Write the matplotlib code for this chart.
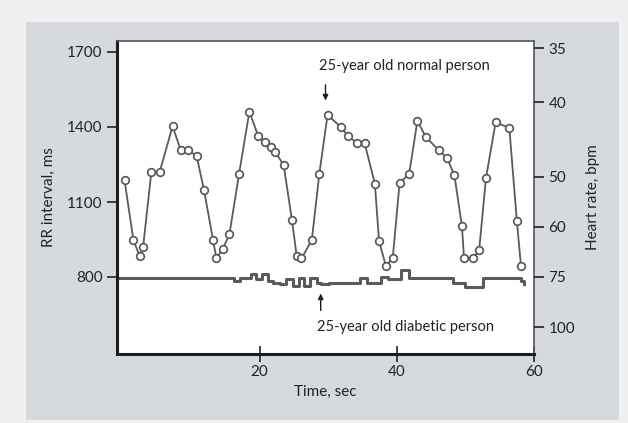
import matplotlib
matplotlib.use("Agg")
import matplotlib.pyplot as plt
from matplotlib.patches import Rectangle

plt.rcParams['font.family'] = ['Lato', 'DejaVu Sans']

# 25-year old normal person: RR interval (ms) per beat
normal_t = [0.3, 1.6, 2.5, 3.0, 4.2, 5.4, 7.3, 8.5, 9.6, 10.8, 11.9, 13.2, 13.7,
            14.6, 15.6, 17.0, 18.5, 19.8, 20.8, 21.6, 22.3, 23.5, 24.7, 25.4,
            26.1, 27.6, 28.7, 29.9, 31.8, 32.9, 34.2, 35.3, 36.8, 37.4, 38.4,
            39.4, 40.4, 41.8, 43.0, 44.2, 46.1, 47.3, 48.4, 49.5, 49.8, 51.1,
            52.0, 53.0, 54.4, 56.4, 57.5, 58.1]
normal_rr = [1186, 947, 884, 918, 1218, 1218, 1403, 1307, 1307, 1285, 1146, 949, 874,
             911, 972, 1213, 1461, 1363, 1340, 1320, 1300, 1247, 1029, 884,
             874, 947, 1213, 1448, 1401, 1363, 1336, 1336, 1173, 945, 844,
             875, 1175, 1213, 1425, 1361, 1307, 1277, 1206, 1002, 874, 874,
             907, 1196, 1418, 1397, 1025, 844]

# 25-year old diabetic person: step changes in RR interval
diab_t = [-0.8, 16.2, 17.2, 18.8, 19.5, 20.4, 21.2, 21.9, 23.0, 23.9, 24.8, 25.7,
          26.5, 27.3, 28.3, 28.9, 30.1, 34.7, 35.6, 37.7, 38.7, 40.6, 41.8,
          48.2, 49.9, 52.6, 58.1, 58.6]
diab_rr = [797, 784, 797, 813, 790, 811, 784, 777, 770, 790, 765, 797,
           765, 797, 777, 770, 777, 797, 777, 800, 790, 827, 797,
           777, 760, 797, 785, 770]

rr_ticks = [800, 1100, 1400, 1700]
hr_ticks = [35, 40, 50, 60, 75, 100]
x_ticks = [20, 40, 60]

txt = "#222222"

fig = plt.figure(figsize=(6.28, 4.23), dpi=100, facecolor="#f0f0f0")
fig.patches.append(Rectangle((26 / 628, 1 - 420 / 423), 593 / 628, 398 / 423,
                             transform=fig.transFigure, facecolor="#d6dadf",
                             edgecolor="none", zorder=-10))

ax = fig.add_axes([117 / 628, 1 - 354 / 423, 417 / 628, 313 / 423])
ax.set_facecolor("white")

ax.plot(normal_t, normal_rr, color="#5a5a5a", lw=1.3, marker="o", ms=5.5,
        mfc="white", mec="#555555", mew=1.2, zorder=3)
ax.plot(diab_t, diab_rr, color="#5a5a5a", lw=2.2, drawstyle="steps-post", zorder=2)

ax.set_xlim(-0.8, 60)
ax.set_ylim(492, 1744)
ax.set_xticks(x_ticks)
ax.set_yticks(rr_ticks)
ax.tick_params(axis="x", direction="inout", length=12, width=1.2, labelsize=11,
               pad=2, colors=txt)
ax.tick_params(axis="y", direction="out", length=7, width=1.2, labelsize=11,
               colors=txt)

for s in ["left", "bottom"]:
    ax.spines[s].set_linewidth(2.2)
    ax.spines[s].set_color("#1e1e1e")
for s in ["top", "right"]:
    ax.spines[s].set_linewidth(1.2)
    ax.spines[s].set_color("#555555")

ax.set_xlabel("Time, sec", fontsize=11, color=txt, labelpad=4)
ax.set_ylabel("RR interval, ms", fontsize=11, color=txt, labelpad=8)

ax2 = ax.twinx()
ax2.set_ylim(ax.get_ylim())
ax2.set_yticks([60000 / h for h in hr_ticks])
ax2.set_yticklabels([str(h) for h in hr_ticks])
ax2.tick_params(axis="y", direction="out", length=7, width=1.2, labelsize=11,
                colors=txt)
for s in ax2.spines.values():
    s.set_visible(False)
ax2.set_ylabel("Heart rate, bpm", fontsize=11, color=txt, labelpad=8)

ax.annotate("", xy=(29.6, 1495), xytext=(29.6, 1580),
            arrowprops=dict(arrowstyle="-|>", color="#1e1e1e", lw=1,
                            mutation_scale=8))
ax.text(28.6, 1645, "25-year old normal person", fontsize=10.5,
        color=txt, va="center", ha="left")
ax.annotate("", xy=(28.9, 745), xytext=(28.9, 655),
            arrowprops=dict(arrowstyle="-|>", color="#1e1e1e", lw=1,
                            mutation_scale=8))
ax.text(28.3, 600, "25-year old diabetic person", fontsize=10.5,
        color=txt, va="center", ha="left")

fig.savefig("out.png", dpi=100, facecolor=fig.get_facecolor())
